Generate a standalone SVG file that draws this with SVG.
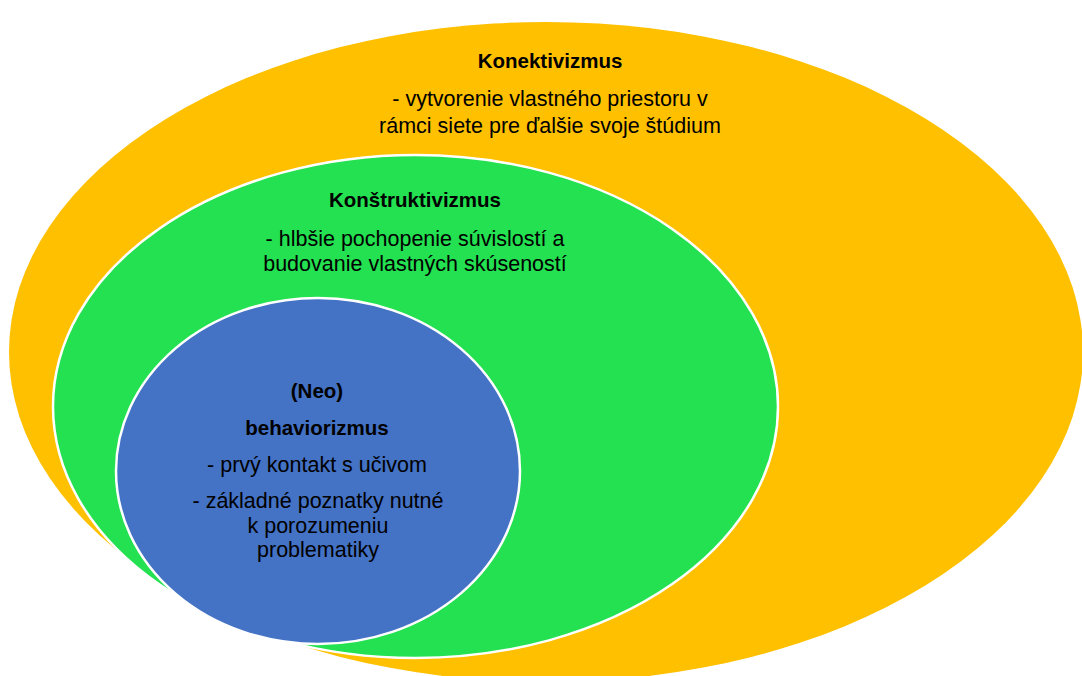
<svg xmlns="http://www.w3.org/2000/svg" width="1082" height="676" viewBox="0 0 1082 676">
<style>
.t{font-family:"Liberation Sans","DejaVu Sans",sans-serif;font-size:21.5px;fill:#000;text-anchor:middle}
.b{font-weight:bold;font-size:20.5px}
.ring{stroke:#fff;stroke-width:2.5}
</style>
<rect width="1082" height="676" fill="#fff"/>
<g id="konektivizmus">
<ellipse cx="546" cy="352" rx="537" ry="330" fill="#FFC000"/>
<text class="t b" x="550" y="68">Konektivizmus</text>
<text class="t" x="550" y="106">- vytvorenie vlastného priestoru v</text>
<text class="t" x="550" y="133">rámci siete pre ďalšie svoje štúdium</text>
</g>
<g id="konstruktivizmus">
<ellipse class="ring" cx="415.5" cy="406.5" rx="362.5" ry="251.5" fill="#23E150"/>
<text class="t b" x="415" y="207">Konštruktivizmus</text>
<text class="t" x="415" y="246">- hlbšie pochopenie súvislostí a</text>
<text class="t" x="415" y="271">budovanie vlastných skúseností</text>
</g>
<g id="behaviorizmus">
<ellipse class="ring" cx="318" cy="471" rx="202" ry="173" fill="#4472C4"/>
<text class="t b" x="317" y="398">(Neo)</text>
<text class="t b" x="317" y="435">behaviorizmus</text>
<text class="t" x="317" y="472">- prvý kontakt s učivom</text>
<text class="t" x="318" y="508">- základné poznatky nutné</text>
<text class="t" x="318" y="533">k porozumeniu</text>
<text class="t" x="318" y="557">problematiky</text>
</g>
</svg>
